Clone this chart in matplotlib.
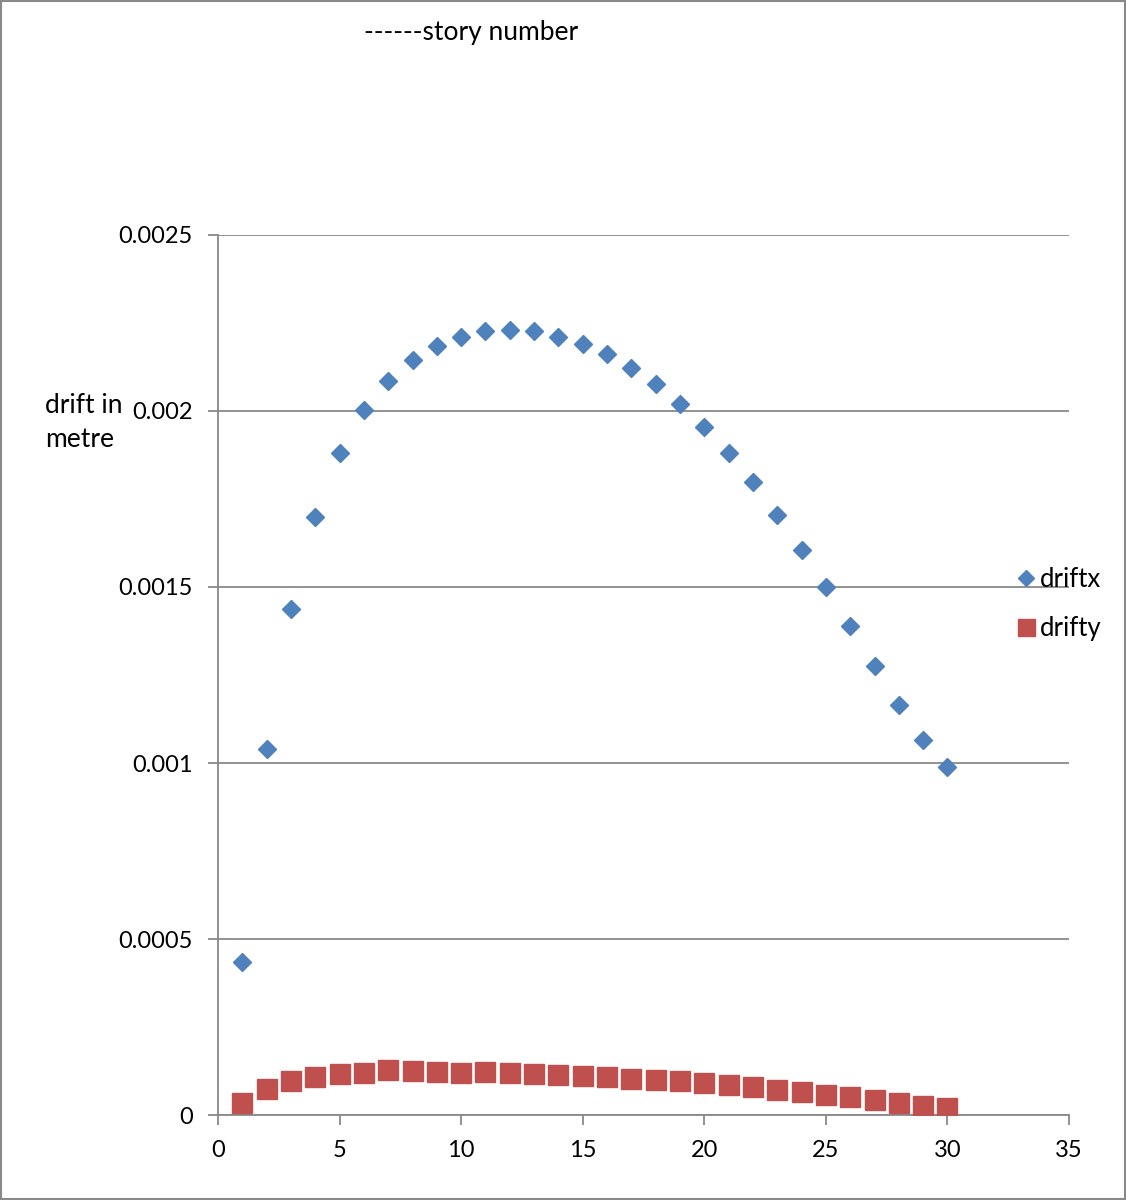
import matplotlib.pyplot as plt
from matplotlib.patches import Rectangle

# story numbers and drift values (metre)
stories = list(range(1, 31))
driftx = [0.000435, 0.00104, 0.001437, 0.0017, 0.00188, 0.002003, 0.002085, 0.002145,
          0.002185, 0.00221, 0.002227, 0.00223, 0.002227, 0.00221, 0.00219, 0.002162,
          0.002122, 0.002077, 0.00202, 0.001955, 0.00188, 0.001798, 0.001705, 0.001605,
          0.0015, 0.001389, 0.001276, 0.001165, 0.001065, 0.000989]
drifty = [0.0000332, 0.0000739, 0.0000972, 0.0001094, 0.000116, 0.0001203, 0.0001283,
          0.0001264, 0.0001222, 0.0001207, 0.000121, 0.0001184, 0.0001165, 0.0001142,
          0.0001113, 0.0001085, 0.0001037, 0.0001, 0.0000961, 0.0000914, 0.0000857,
          0.0000795, 0.0000724, 0.0000653, 0.0000582, 0.0000502, 0.0000421, 0.0000345,
          0.000027, 0.0000213]
xticks = [0, 5, 10, 15, 20, 25, 30, 35]
yticks = [0, 0.0005, 0.001, 0.0015, 0.002, 0.0025]
ytick_labels = ['0', '0.0005', '0.001', '0.0015', '0.002', '0.0025']

plt.rcParams['font.family'] = ['Lato', 'DejaVu Sans']
grey = '#898989'

fig = plt.figure(figsize=(11.26, 12), dpi=100)
ax = fig.add_axes([0.1936, 0.0708, 0.7558, 0.7334])

ax.plot(stories, driftx, linestyle='none', marker='D', markersize=9,
        color='#4F81BD', label='driftx', zorder=3)
ax.plot(stories, drifty, linestyle='none', marker='s', markersize=14.4,
        color='#C0504D', label='drifty', zorder=3)

ax.set_xlim(0, 35)
ax.set_ylim(0, 0.0025)
ax.set_xticks(xticks)
ax.set_yticks(yticks)
ax.set_yticklabels(ytick_labels)
ax.tick_params(axis='both', direction='out', length=7, width=1.3, color=grey,
               labelsize=17)
ax.tick_params(axis='y', pad=11)
ax.tick_params(axis='x', pad=11)

ax.grid(axis='y', color=grey, linewidth=1.3)
ax.set_axisbelow(True)
for side in ['top', 'right']:
    ax.spines[side].set_visible(False)
for side in ['left', 'bottom']:
    ax.spines[side].set_color(grey)
    ax.spines[side].set_linewidth(1.3)

fig.text(0.040, 0.648, 'drift in\nmetre', fontsize=19, ha='left', va='center',
         linespacing=1.45)
fig.text(0.4185, 0.973, '------story number', fontsize=19, ha='center', va='center')

fig.legend(loc='center left', bbox_to_anchor=(0.884, 0.4965), frameon=False,
           fontsize=18.5, handlelength=0.6, handletextpad=0.25, labelspacing=0.95,
           markerscale=0.85)

fig.patches.append(Rectangle((0.001, 0.001), 0.998, 0.998, transform=fig.transFigure,
                             fill=False, edgecolor=grey, linewidth=1.5))

fig.savefig('out.png', dpi=100)
